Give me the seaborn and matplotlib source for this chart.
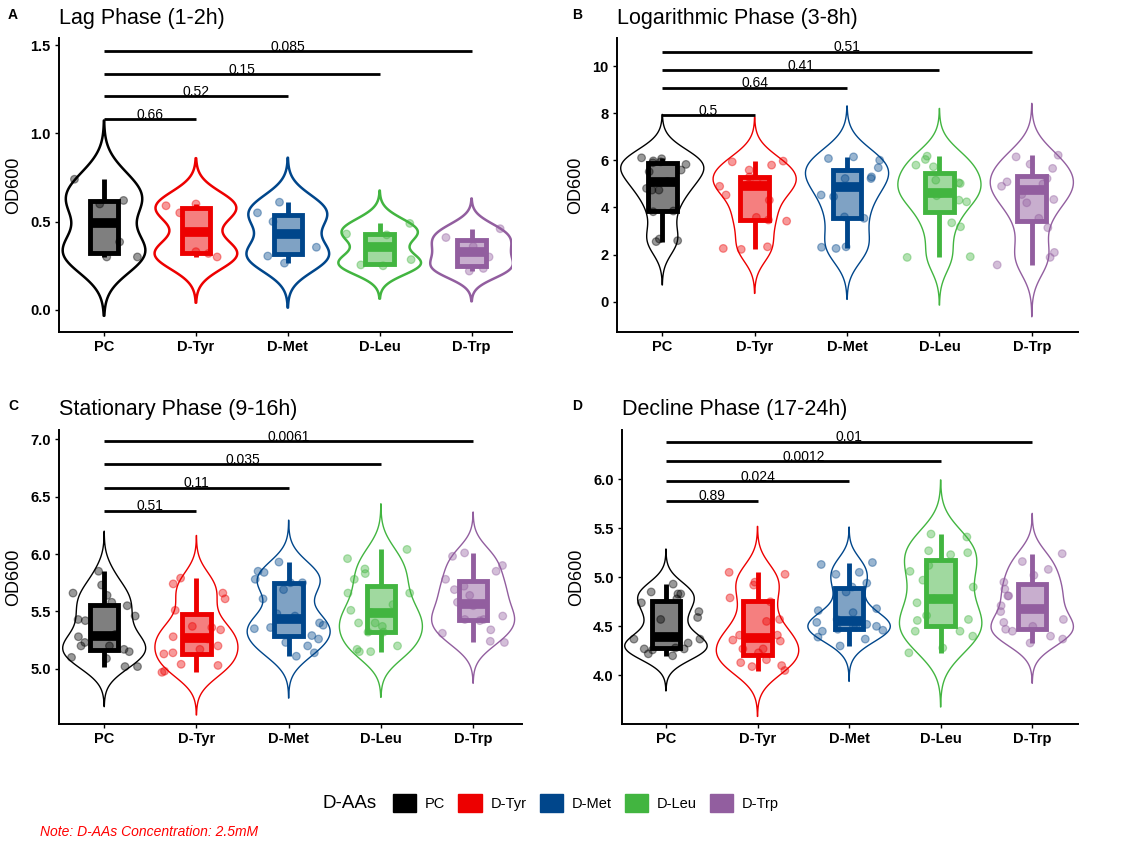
import numpy as np
import pandas as pd
import matplotlib
matplotlib.use("Agg")
import matplotlib.pyplot as plt
from matplotlib.patches import Patch
import seaborn as sns

groups = ["PC", "D-Tyr", "D-Met", "D-Leu", "D-Trp"]
colors = ["#000000", "#ED0000", "#00468B", "#42B540", "#925E9F"]

# Lag phase (1-2h)
lag_pc = [0.74, 0.62, 0.60, 0.385, 0.30, 0.30]
lag_tyr = [0.60, 0.59, 0.55, 0.33, 0.32, 0.30]
lag_met = [0.61, 0.55, 0.50, 0.355, 0.305, 0.265]
lag_leu = [0.49, 0.43, 0.425, 0.285, 0.255, 0.25]
lag_trp = [0.46, 0.41, 0.36, 0.30, 0.235, 0.22]
lag_p = ["0.66", "0.52", "0.15", "0.085"]

# Logarithmic phase (3-8h)
log_pc = [6.11, 6.07, 5.98, 5.94, 5.90, 5.83, 5.59, 5.52, 5.10, 4.81, 4.74, 4.74, 3.85, 3.82, 2.66, 2.59, 2.55]
log_tyr = [5.97, 5.94, 5.80, 5.59, 5.30, 5.09, 5.09, 5.00, 4.90, 4.53, 4.31, 3.58, 3.47, 3.42, 2.33, 2.26, 2.22]
log_met = [6.15, 6.08, 6.01, 5.69, 5.30, 5.23, 5.23, 4.53, 4.46, 3.60, 3.54, 2.33, 2.31, 2.26]
log_leu = [6.18, 6.04, 5.80, 5.73, 5.16, 5.05, 5.02, 4.60, 4.50, 4.31, 4.24, 3.35, 3.18, 1.91, 1.88]
log_trp = [6.22, 6.15, 5.84, 5.66, 5.23, 5.09, 5.00, 4.90, 4.55, 4.34, 4.20, 3.54, 3.14, 2.09, 1.88, 1.56]
log_p = ["0.5", "0.64", "0.41", "0.51"]

# Stationary phase (9-16h)
stat_pc = [5.85, 5.73, 5.66, 5.64, 5.58, 5.55, 5.46, 5.43, 5.42, 5.30, 5.28, 5.23, 5.20, 5.20, 5.17, 5.15, 5.10, 5.09, 5.02, 5.02]
stat_tyr = [5.79, 5.74, 5.66, 5.61, 5.51, 5.37, 5.36, 5.34, 5.28, 5.26, 5.20, 5.17, 5.14, 5.13, 5.04, 5.03, 4.98, 4.97]
stat_met = [5.93, 5.85, 5.84, 5.78, 5.75, 5.75, 5.69, 5.61, 5.48, 5.46, 5.40, 5.38, 5.36, 5.35, 5.29, 5.26, 5.23, 5.20, 5.14, 5.11]
stat_leu = [6.04, 5.96, 5.87, 5.83, 5.78, 5.66, 5.66, 5.56, 5.51, 5.49, 5.40, 5.40, 5.37, 5.32, 5.32, 5.20, 5.17, 5.15, 5.15]
stat_trp = [6.01, 5.98, 5.90, 5.85, 5.78, 5.72, 5.69, 5.64, 5.58, 5.55, 5.46, 5.43, 5.43, 5.42, 5.34, 5.31, 5.24, 5.23]
stat_p = ["0.51", "0.11", "0.035", "0.0061"]

# Decline phase (17-24h)
dec_pc = [4.93, 4.85, 4.83, 4.83, 4.78, 4.74, 4.65, 4.59, 4.57, 4.39, 4.37, 4.37, 4.33, 4.28, 4.27, 4.27, 4.26, 4.22, 4.20]
dec_tyr = [5.05, 5.03, 4.95, 4.92, 4.79, 4.75, 4.57, 4.55, 4.41, 4.41, 4.36, 4.35, 4.27, 4.27, 4.23, 4.16, 4.13, 4.10, 4.09, 4.05]
dec_met = [5.15, 5.13, 5.05, 5.03, 4.94, 4.90, 4.85, 4.68, 4.66, 4.64, 4.57, 4.54, 4.52, 4.50, 4.50, 4.49, 4.47, 4.46, 4.45, 4.39, 4.37, 4.30]
dec_leu = [5.44, 5.41, 5.27, 5.25, 5.23, 5.12, 5.06, 4.97, 4.90, 4.78, 4.74, 4.61, 4.57, 4.56, 4.45, 4.45, 4.40, 4.28, 4.23]
dec_trp = [5.24, 5.16, 5.08, 5.02, 4.95, 4.88, 4.81, 4.81, 4.71, 4.65, 4.57, 4.54, 4.50, 4.47, 4.45, 4.40, 4.37, 4.33]
dec_p = ["0.89", "0.024", "0.0012", "0.01"]

W, H = 1122, 844
np.random.seed(7)

sns.set_theme(style="ticks")
plt.rcParams["font.family"] = ["Liberation Sans", "DejaVu Sans"]
plt.rcParams["text.color"] = "black"
plt.rcParams["axes.labelcolor"] = "black"

fig = plt.figure(figsize=(W / 100, H / 100), dpi=100)


def px_rect(left, top, right, bottom):
    return [left / W, 1 - bottom / H, (right - left) / W, (bottom - top) / H]


panels = [
    dict(letter="A", title="Lag Phase (1-2h)", vals=[lag_pc, lag_tyr, lag_met, lag_leu, lag_trp], p=lag_p,
         bar_y=[1.08, 1.21, 1.335, 1.465], ylim=(-0.125, 1.54), yticks=[0, 0.5, 1.0, 1.5], fmt="{:.1f}",
         xlim=(-0.49, 4.44), rect=(59, 38, 512, 332), vlw=1.8, white_med=False),
    dict(letter="B", title="Logarithmic Phase (3-8h)", vals=[log_pc, log_tyr, log_met, log_leu, log_trp], p=log_p,
         bar_y=[7.92, 9.08, 9.83, 10.62], ylim=(-1.29, 11.2), yticks=[0, 2, 4, 6, 8, 10], fmt="{:.0f}",
         xlim=(-0.49, 4.5), rect=(617, 38, 1078, 332), vlw=1.0, white_med=False),
    dict(letter="C", title="Stationary Phase (9-16h)", vals=[stat_pc, stat_tyr, stat_met, stat_leu, stat_trp], p=stat_p,
         bar_y=[6.376, 6.575, 6.78, 6.98], ylim=(4.52, 7.08), yticks=[5.0, 5.5, 6.0, 6.5, 7.0], fmt="{:.1f}",
         xlim=(-0.49, 4.53), rect=(59, 430, 522, 724), vlw=1.0, white_med=True),
    dict(letter="D", title="Decline Phase (17-24h)", vals=[dec_pc, dec_tyr, dec_met, dec_leu, dec_trp], p=dec_p,
         bar_y=[5.78, 5.98, 6.18, 6.38], ylim=(3.505, 6.50), yticks=[4.0, 4.5, 5.0, 5.5, 6.0], fmt="{:.1f}",
         xlim=(-0.48, 4.5), rect=(622, 430, 1078, 724), vlw=1.0, white_med=True),
]

for pan in panels:
    ax = fig.add_axes(px_rect(*pan["rect"]))
    df = pd.DataFrame({
        "grp": np.repeat(groups, [len(v) for v in pan["vals"]]),
        "od": np.concatenate(pan["vals"]),
    })

    sns.violinplot(data=df, x="grp", y="od", hue="grp", order=groups, hue_order=groups,
                   palette=colors, saturation=1, fill=False, inner=None, density_norm="width",
                   width=0.9, cut=3, bw_adjust=0.85, linewidth=pan["vlw"], legend=False, ax=ax)

    n0 = len(ax.collections)
    sns.stripplot(data=df, x="grp", y="od", hue="grp", order=groups, hue_order=groups,
                  palette=colors, jitter=0.38, size=5.5, alpha=0.4, legend=False, ax=ax)
    for c in ax.collections[n0:]:
        c.set_edgecolor(c.get_facecolor())
        c.set_linewidth(0.9)

    npatch, nline = len(ax.patches), len(ax.lines)
    sns.boxplot(data=df, x="grp", y="od", hue="grp", order=groups, hue_order=groups,
                palette=colors, saturation=1, width=0.31, linewidth=3.5, showcaps=False,
                showfliers=False, medianprops={"linewidth": 7}, legend=False, ax=ax)
    for p in ax.patches[npatch:]:
        fc = p.get_facecolor()
        p.set_edgecolor(fc[:3])
        p.set_facecolor((*fc[:3], 0.5))
        p.set_linewidth(3.5)
    medians = []
    for ln in ax.lines[nline:]:
        xd = np.asarray(ln.get_xdata(), dtype=float)
        if len(xd) == 0:
            continue
        ln.set_color(colors[int(round(xd.mean()))])
        ln.set_solid_capstyle("butt")
        if xd[0] != xd[-1]:
            medians.append(ln)
    if pan["white_med"]:
        for ln in medians:
            xd = np.asarray(ln.get_xdata(), dtype=float)
            yd = np.asarray(ln.get_ydata(), dtype=float)
            ax.plot([xd[0] + 0.03, xd[-1] - 0.03], yd, color="white", lw=1.0, ls=(0, (1.5, 1)), alpha=0.8)

    # significance bars, PC vs each D-AA
    for i, (pv, yb) in enumerate(zip(pan["p"], pan["bar_y"])):
        ax.plot([0, i + 1], [yb, yb], color="black", lw=2, solid_capstyle="butt")
        ax.annotate(pv, xy=((i + 1) / 2, yb), xytext=(0, -1.8), textcoords="offset points",
                    ha="center", va="bottom", fontsize=10, color="black")

    ax.set_xlim(*pan["xlim"])
    ax.set_ylim(*pan["ylim"])
    ax.set_yticks(pan["yticks"])
    ax.set_yticklabels([pan["fmt"].format(t) for t in pan["yticks"]])
    ax.set_xlabel("")
    ax.set_ylabel("OD600", fontsize=13, labelpad=6, color="black")
    ax.tick_params(axis="both", length=3, width=1, colors="black", labelsize=10.5, pad=3)
    for lab in ax.get_xticklabels() + ax.get_yticklabels():
        lab.set_fontweight("bold")
    for s in ["left", "bottom"]:
        ax.spines[s].set_linewidth(1.4)
        ax.spines[s].set_color("black")
    sns.despine(ax=ax)
    ax.set_facecolor("none")

    left, top = pan["rect"][0], pan["rect"][1]
    base = 24 if top < 100 else 415
    fig.text(left / W, 1 - base / H, pan["title"], fontsize=15.5, va="baseline", ha="left", color="black")
    lx = 8 if left < 300 else 572
    fig.text(lx / W, 1 - (base - 5) / H, pan["letter"], fontsize=10, fontweight="bold",
             va="baseline", ha="left", color="black")

# legend
handles = [Patch(facecolor=c, edgecolor=c) for c in colors]
leg = fig.legend(handles, groups, ncol=5, loc="center left", bbox_to_anchor=(393 / W, 1 - 803 / H),
                 frameon=False, fontsize=10.5, handlelength=1.58, handleheight=1.58, handletextpad=0.62,
                 columnspacing=0.9, borderpad=0, borderaxespad=0)
for t in leg.get_texts():
    t.set_color("black")
fig.text(377 / W, 1 - 803 / H, "D-AAs", ha="right", va="center", fontsize=13.5, color="black")
fig.text(40 / W, 1 - 832 / H, "Note: D-AAs Concentration: 2.5mM", color="red", style="italic",
         fontsize=10, va="center", ha="left")

fig.savefig("out.png", dpi=100)
